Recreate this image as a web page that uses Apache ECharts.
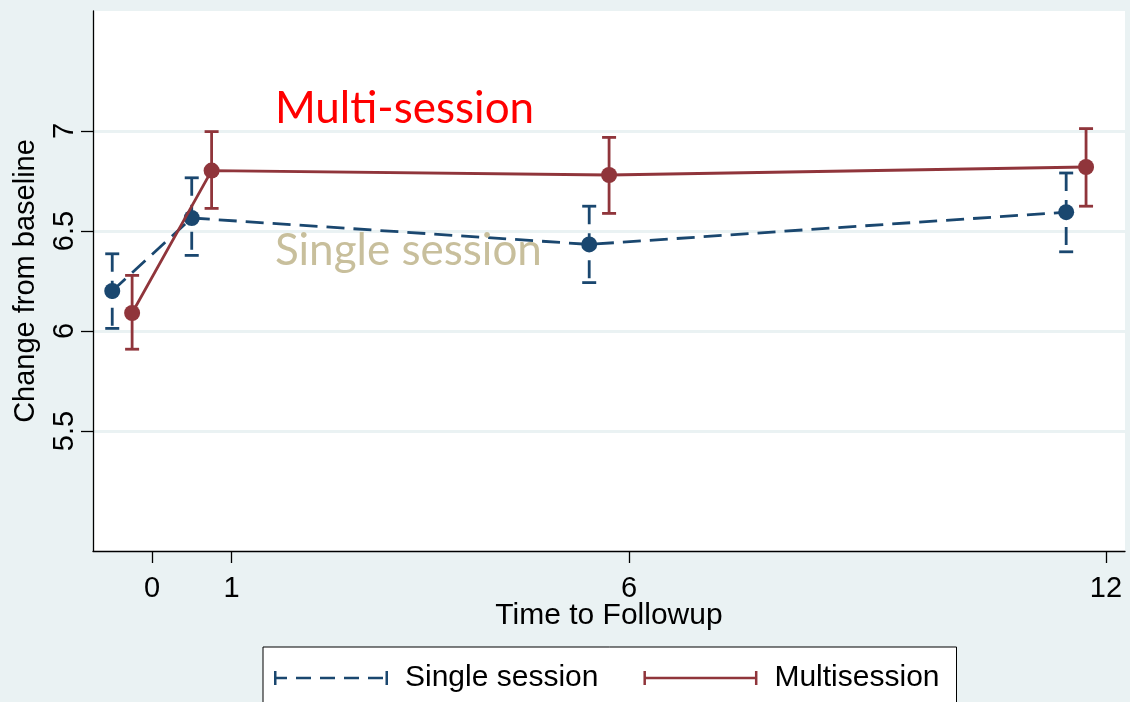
<!DOCTYPE html>
<html>
<head>
<meta charset="utf-8">
<script src="https://cdn.jsdelivr.net/npm/echarts@6/dist/echarts.min.js"></script>
<style>
html,body{margin:0;padding:0;background:#EAF2F3;}
#c{width:1130px;height:702px;}
</style>
</head>
<body>
<div id="c"></div>
<script>
// ---- data ----
var seriesNames = ['Single session', 'Multisession'];
var xTicks = [0, 1, 6, 12];
var yTicks = [5.5, 6, 6.5, 7];
// Single session (plotted offset at time - 0.5)
var singleX = [-0.5, 0.5, 5.5, 11.5];
var singleMean = [6.20, 6.565, 6.433, 6.594];
var singleLow = [6.013, 6.378, 6.242, 6.396];
var singleHigh = [6.386, 6.766, 6.624, 6.790];
// Multisession (plotted offset at time - 0.25)
var multiX = [-0.25, 0.75, 5.75, 11.75];
var multiMean = [6.09, 6.802, 6.78, 6.82];
var multiLow = [5.909, 6.613, 6.588, 6.624];
var multiHigh = [6.278, 6.997, 6.968, 7.012];
// annotations
var annoText = ['Multi-session', 'Single session'];
var annoX = [1.546, 1.546];
var annoY = [7.11, 6.40];

var cSingle = '#1A476F';
var cMulti = '#90353B';
var font = 'Liberation Sans, Arial, sans-serif';

function zip2(a, b) { return a.map(function (v, i) { return [v, b[i]]; }); }
function zip3(a, b, c) { return a.map(function (v, i) { return [v, b[i], c[i]]; }); }

function errRender(color, dash) {
  return function (params, api) {
    var x = api.value(0), lo = api.value(1), hi = api.value(2);
    var pLo = api.coord([x, lo]), pHi = api.coord([x, hi]);
    var cw = 7;
    return {
      type: 'group',
      children: [
        { type: 'line', shape: { x1: pHi[0], y1: pHi[1], x2: pLo[0], y2: pLo[1] },
          style: { stroke: color, lineWidth: 2.8, lineDash: dash } },
        { type: 'line', shape: { x1: pHi[0] - cw, y1: pHi[1], x2: pHi[0] + cw, y2: pHi[1] },
          style: { stroke: color, lineWidth: 2.8 } },
        { type: 'line', shape: { x1: pLo[0] - cw, y1: pLo[1], x2: pLo[0] + cw, y2: pLo[1] },
          style: { stroke: color, lineWidth: 2.8 } }
      ]
    };
  };
}

var iconSingle = 'path://M0 0H2.5V14H0Z M0 5.8H13V8.2H0Z M22 5.8H37V8.2H22Z M46 5.8H61V8.2H46Z M70 5.8H85V8.2H70Z M94 5.8H109V8.2H94Z M111.5 0H114V14H111.5Z';
var iconMulti = 'path://M0 0H2.5V14H0Z M0 5.8H114V8.2H0Z M111.5 0H114V14H111.5Z';

var chart = echarts.init(document.getElementById('c'), null, { renderer: 'canvas' });
var option = {
  backgroundColor: '#EAF2F3',
  animation: false,
  grid: {
    left: 93, right: 5, top: 11, bottom: 151,
    outerBoundsMode: 'none', containLabel: false,
    show: true, backgroundColor: '#ffffff', borderWidth: 0
  },
  xAxis: {
    type: 'value', min: -0.742, max: 12.24,
    name: 'Time to Followup', nameLocation: 'middle', nameGap: 50, nameMoveOverlap: false,
    nameTextStyle: { fontFamily: font, fontSize: 30, color: '#000' },
    axisLine: { show: true, onZero: false, lineStyle: { color: '#000', width: 1.3 } },
    axisTick: { show: true, length: 12, customValues: xTicks, lineStyle: { color: '#000', width: 1.3 } },
    axisLabel: { customValues: xTicks, margin: 23, fontFamily: font, fontSize: 29, color: '#000' },
    splitLine: { show: false }
  },
  yAxis: {
    type: 'value', min: 4.9, max: 7.6,
    name: 'Change from baseline', nameLocation: 'middle', nameGap: 53, nameRotate: 90,
    nameTextStyle: { fontFamily: font, fontSize: 29, color: '#000' },
    axisLine: { show: true, onZero: false, lineStyle: { color: '#000', width: 1.3 } },
    axisTick: { show: true, length: 12, customValues: yTicks, lineStyle: { color: '#000', width: 1.3 } },
    axisLabel: { customValues: yTicks, rotate: 90, margin: 14, fontFamily: font, fontSize: 29, color: '#000' },
    splitLine: { show: true, lineStyle: { color: '#EAF2F3', width: 3 } }
  },
  legend: {
    left: 263, top: 647,
    data: [{ name: seriesNames[0], icon: iconSingle }, { name: seriesNames[1], icon: iconMulti }],
    itemWidth: 114, itemHeight: 14, itemGap: 45,
    backgroundColor: '#ffffff', borderColor: '#000', borderWidth: 1,
    padding: [16, 17, 40, 11],
    textStyle: { fontFamily: font, fontSize: 30, color: '#000', padding: [0, 0, 0, 12] }
  },
  series: [
    {
      name: 'Single session CI', type: 'custom', renderItem: errRender(cSingle, [18, 9]),
      encode: { x: 0, y: [1, 2] }, data: zip3(singleX, singleLow, singleHigh), z: 2
    },
    {
      name: seriesNames[0], type: 'line', data: zip2(singleX, singleMean),
      symbol: 'circle', symbolSize: 16, z: 3,
      itemStyle: { color: cSingle },
      lineStyle: { color: cSingle, width: 2.8, type: [18, 9] }
    },
    {
      name: 'Multisession CI', type: 'custom', renderItem: errRender(cMulti, null),
      encode: { x: 0, y: [1, 2] }, data: zip3(multiX, multiLow, multiHigh), z: 4
    },
    {
      name: seriesNames[1], type: 'line', data: zip2(multiX, multiMean),
      symbol: 'circle', symbolSize: 16, z: 5,
      itemStyle: { color: cMulti },
      lineStyle: { color: cMulti, width: 2.8 }
    }
  ]
};
chart.setOption(option);

var annoColors = ['#FF0000', '#C8BF9C'];
var elems = annoText.map(function (t, i) {
  var p = chart.convertToPixel({ gridIndex: 0 }, [annoX[i], annoY[i]]);
  return {
    type: 'text', x: p[0], y: p[1], z: 10,
    style: { text: t, fill: annoColors[i], fontFamily: 'Lato, sans-serif', fontSize: 44,
             align: 'left', verticalAlign: 'middle' }
  };
});
chart.setOption({ graphic: elems });
</script>
</body>
</html>
